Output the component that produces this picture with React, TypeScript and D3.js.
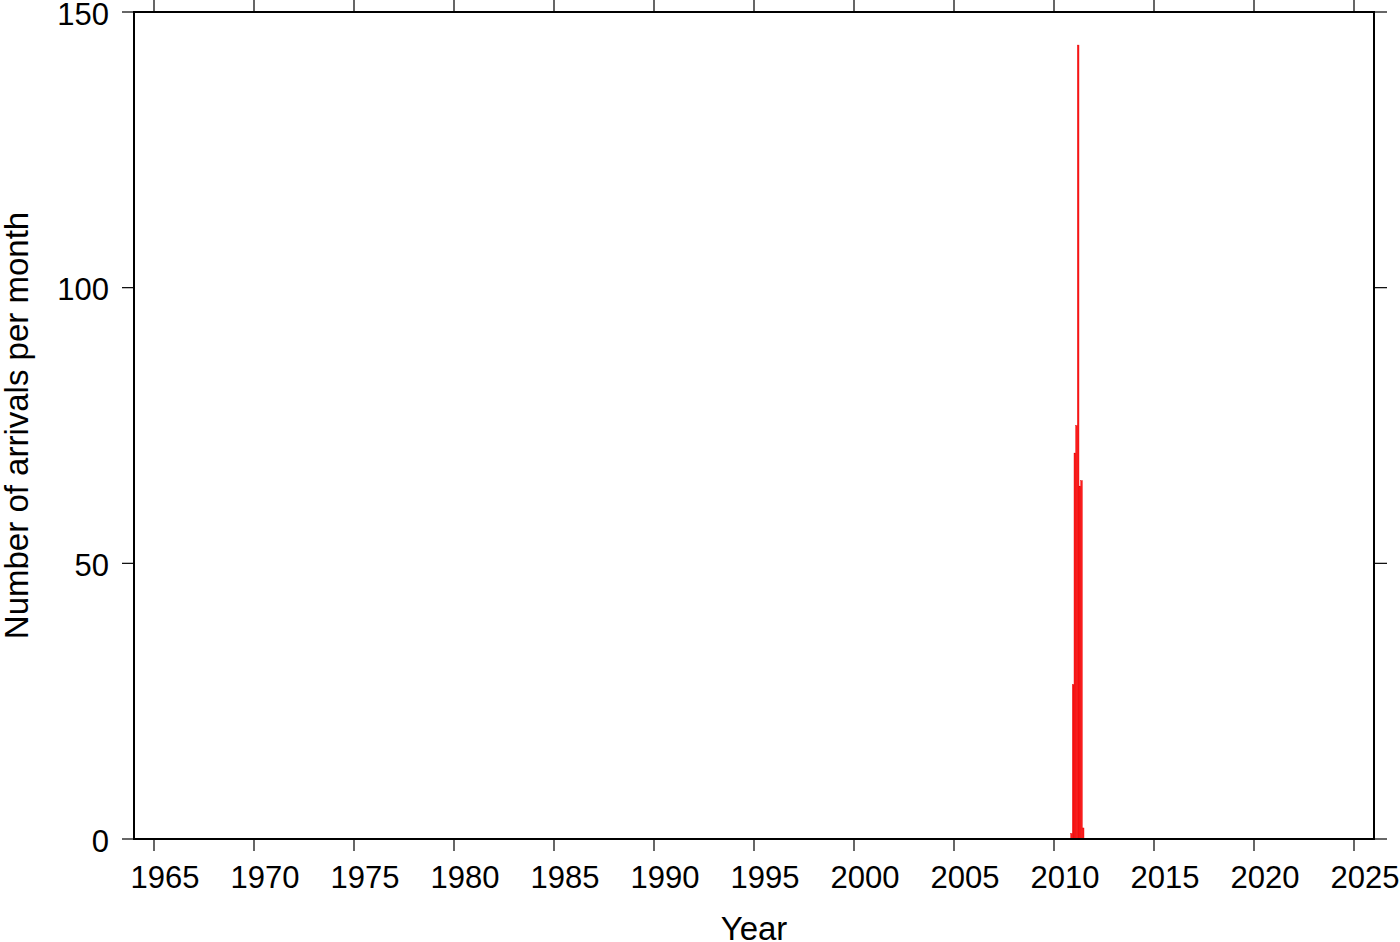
import React from "react";
import * as d3 from "d3";

const months = ["2010-11", "2010-12", "2011-01", "2011-02", "2011-03", "2011-04", "2011-05", "2011-06"];
const counts = [1, 28, 70, 75, 144, 64, 65, 2];
const xTicks = [1965, 1970, 1975, 1980, 1985, 1990, 1995, 2000, 2005, 2010, 2015, 2020, 2025];
const yTicks = [0, 50, 100, 150];

const W = 1400, H = 942;
const L = 134, R = 1374, T = 12, B = 839;

export default function App() {
  const x = d3.scaleLinear().domain([1964, 2026]).range([L, R]);
  const y = d3.scaleLinear().domain([0, 150]).range([B, T]);
  const font = "'Liberation Sans', Arial, Helvetica, sans-serif";
  const bars = months.map((m, i) => {
    const [yr, mo] = m.split("-").map(Number);
    const t0 = yr + (mo - 1) / 12;
    const t1 = t0 + 1 / 12;
    return { x0: x(t0), x1: x(t1), v: counts[i] };
  });
  return (
    <svg width={W} height={H} style={{ position: "absolute", left: 0, top: 0 }}>
      <rect width={W} height={H} fill="white" />
      {bars.map((b, i) => (
        <rect key={i} x={b.x0} y={y(b.v)} width={b.x1 - b.x0} height={B - y(b.v)}
          fill="#ff1a1a" stroke="#e00000" strokeWidth={0.4} />
      ))}
      {xTicks.map((t) => (
        <g key={t}>
          <line x1={x(t)} x2={x(t)} y1={B} y2={B + 12} stroke="black" strokeWidth={1.2} />
          <line x1={x(t)} x2={x(t)} y1={T} y2={T - 12} stroke="black" strokeWidth={1.2} />
          <text x={x(t) + 11} y={888} textAnchor="middle" fontFamily={font} fontSize={31}>{t}</text>
        </g>
      ))}
      {yTicks.map((t) => (
        <g key={t}>
          <line x1={L} x2={L - 12} y1={y(t)} y2={y(t)} stroke="black" strokeWidth={1.2} />
          <line x1={R} x2={R + 13} y1={y(t)} y2={y(t)} stroke="black" strokeWidth={1.2} />
          <text x={109} y={y(t) + 12.5} textAnchor="end" fontFamily={font} fontSize={31}>{t}</text>
        </g>
      ))}
      <rect x={L} y={T} width={R - L} height={B - T} fill="none" stroke="black" strokeWidth={2} />
      <text x={754} y={940} textAnchor="middle" fontFamily={font} fontSize={33}>Year</text>
      <text transform={`translate(28,${(T + B) / 2}) rotate(-90)`} textAnchor="middle"
        fontFamily={font} fontSize={33}>Number of arrivals per month</text>
    </svg>
  );
}
